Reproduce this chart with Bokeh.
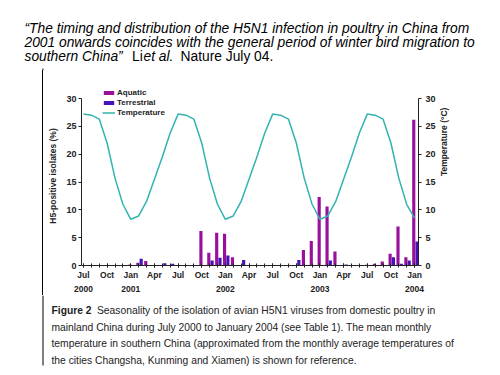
import math
from bokeh.plotting import figure
from bokeh.layouts import column, row
from bokeh.models import (Range1d, LinearAxis, FixedTicker, Legend, LegendItem,
                          ColumnDataSource, Spacer)
from bokeh.transform import dodge
from bokeh.core.properties import value
from bokeh.embed import file_html
from bokeh.resources import INLINE

# ---------------- data (month index 0 = Jul 2000 ... 42 = Jan 2004) ----------------
months = list(range(43))
aquatic = [0, 0, 0, 0, 0, 0, 0.2, 0.5, 0.8, 0, 0, 0,
           0, 0, 0, 6.2, 2.3, 5.9, 5.7, 1.5, 0, 0, 0, 0,
           0, 0, 0, 0, 2.8, 4.4, 12.3, 10.6, 2.5, 0, 0, 0,
           0.15, 0.3, 0.7, 2.1, 7.0, 1.5, 26.2]
terrestrial = [0, 0, 0, 0, 0, 0, 0, 1.2, 0, 0, 0.4, 0.3,
               0, 0, 0, 0, 0.9, 1.4, 1.8, 0, 1.0, 0, 0, 0,
               0, 0, 0, 1.0, 0, 0, 0, 0.9, 0, 0.2, 0, 0,
               0, 0, 0, 1.5, 0.3, 0.9, 4.3]
temperature = [27.2, 27.0, 26.3, 22.0, 15.7, 11.0, 8.3, 8.9, 11.5, 15.5, 19.5, 23.8,
               27.2, 27.0, 26.3, 22.0, 15.7, 11.0, 8.3, 8.9, 11.5, 15.5, 19.5, 23.8,
               27.2, 27.0, 26.3, 22.0, 15.7, 11.0, 8.3, 8.9, 11.5, 15.5, 19.5, 23.8,
               27.2, 27.0, 26.3, 22.0, 15.7, 11.0, 8.5]
tick_months = [0, 3, 6, 9, 12, 15, 18, 21, 24, 27, 30, 33, 36, 39, 42]
tick_labels = ["Jul", "Oct", "Jan", "Apr", "Jul", "Oct", "Jan", "Apr", "Jul", "Oct",
               "Jan", "Apr", "Jul", "Oct", "Jan"]
year_ticks = [0, 6, 18, 30, 42]
year_labels = ["2000", "2001", "2002", "2003", "2004"]
y_ticks = [0, 5, 10, 15, 20, 25, 30]
series_names = ["Aquatic", "Terrestrial", "Temperature"]

title_lines = ["\u201cThe timing and distribution of the H5N1 infection in poultry in China from",
               "2001 onwards coincides with the general period of winter bird migration to",
               "southern China\u201d"]
caption_lines = ["Seasonality of the isolation of avian H5N1 viruses from domestic poultry in",
                 "mainland China during July 2000 to January 2004 (see Table 1). The mean monthly",
                 "temperature in southern China (approximated from the monthly average temperatures of",
                 "the cities Changsha, Kunming and Xiamen) is shown for reference."]

PURPLE = "#9a0f9c"
BLUE = "#4412b6"
TEAL = "#33b3b0"
AX = "#222222"
FONT = "Liberation Sans"

# ---------------- layout constants ----------------
W = 500
TOP_H, MID_H, BOT_H = 70, 225, 80
RULE_X = 42
CH_X = RULE_X + 3
CH_W = W - CH_X
FL, FR = 79 - CH_X, 418 - CH_X
FT, FB = 86 - TOP_H, 265 - TOP_H
Y_TOP = 30 * (265 - 86) / (265 - 98)


def blank(width, height, fill="white"):
    f = figure(width=width, height=height, output_backend="svg", toolbar_location=None,
               x_range=Range1d(0, width), y_range=Range1d(height, 0),
               x_axis_location=None, y_axis_location=None, min_border=0)
    f.outline_line_color = None
    f.xgrid.visible = False
    f.ygrid.visible = False
    f.background_fill_color = fill
    f.border_fill_color = fill
    return f


def txt(f, s, x, y, size, style="normal", color="black", font=FONT):
    f.text(x=[x], y=[y], text=[s], text_font=value(font), text_font_size=f"{size}px",
           text_font_style=style, text_color=color, text_baseline="middle", text_align="left")


# ---------------- top: quotation ----------------
top = blank(W, TOP_H)
TS = 13.8
txt(top, title_lines[0], 24, 27.5, TS, "italic")
txt(top, title_lines[1], 24, 42, TS, "italic")
txt(top, title_lines[2], 24, 56, TS, "italic")
txt(top, "Li", 131.5, 56, TS)
txt(top, "et al.", 143, 56, TS, "italic")
txt(top, "Nature July 04.", 180, 56, TS)
top.segment(x0=[RULE_X + 0.5], y0=[68], x1=[RULE_X + 0.5], y1=[TOP_H], line_color="black",
            line_width=1)

# ---------------- slide rule beside the chart ----------------
rule = Spacer(width=1, height=MID_H, styles={"background-color": "black"})

# ---------------- chart ----------------
src = ColumnDataSource(dict(m=months, aquatic=aquatic, terrestrial=terrestrial,
                            temperature=temperature))

p = figure(width=CH_W, height=MID_H, output_backend="svg", toolbar_location=None,
           x_range=Range1d(-0.25, 42.5), y_range=Range1d(0, Y_TOP),
           min_border_left=FL, min_border_right=CH_W - FR,
           min_border_top=FT, min_border_bottom=MID_H - FB)
p.outline_line_color = None
p.xgrid.visible = False
p.ygrid.visible = False
p.background_fill_color = "white"
p.border_fill_color = "white"

r_aq = p.vbar(x=dodge("m", -0.1, range=p.x_range), top="aquatic", width=0.4, source=src,
              fill_color=PURPLE, line_color=None)
r_te = p.vbar(x=dodge("m", 0.32, range=p.x_range), top="terrestrial", width=0.4, source=src,
              fill_color=BLUE, line_color=None)
r_tm = p.line("m", "temperature", source=src, line_color=TEAL, line_width=1.5)


def style_y(ax):
    ax.bounds = (0, 30)
    ax.axis_line_color = AX
    ax.major_tick_line_color = AX
    ax.major_tick_in = 0
    ax.major_tick_out = 3
    ax.minor_tick_line_color = None
    ax.major_label_standoff = 2
    ax.major_label_text_font = FONT
    ax.major_label_text_font_style = "bold"
    ax.major_label_text_font_size = "9px"
    ax.major_label_text_color = AX
    ax.axis_label_text_font = FONT
    ax.axis_label_text_font_style = "bold"
    ax.axis_label_text_font_size = "8.5px"
    ax.axis_label_text_color = AX
    ax.axis_label_standoff = 5


ya = p.yaxis[0]
ya.ticker = FixedTicker(ticks=y_ticks)
ya.axis_label = "H5-positive isolates (%)"
style_y(ya)

ra = LinearAxis(ticker=FixedTicker(ticks=y_ticks), axis_label="Temperature (\u00b0C)")
style_y(ra)
ra.major_label_standoff = 4
ra.axis_label_orientation = math.pi / 2
p.add_layout(ra, "right")

xa = p.xaxis[0]
xa.ticker = FixedTicker(ticks=tick_months, minor_ticks=months)
xa.major_label_overrides = {m: t for m, t in zip(tick_months, tick_labels)}
xa.axis_line_color = AX
xa.major_tick_line_color = AX
xa.minor_tick_line_color = AX
xa.major_tick_in = 2
xa.major_tick_out = 2
xa.minor_tick_in = 2
xa.minor_tick_out = 2
xa.major_label_standoff = 2
xa.major_label_text_font = FONT
xa.major_label_text_font_style = "bold"
xa.major_label_text_font_size = "8.5px"
xa.major_label_text_color = AX

yr = LinearAxis(ticker=FixedTicker(ticks=year_ticks),
                major_label_overrides={m: t for m, t in zip(year_ticks, year_labels)})
yr.axis_line_color = None
yr.major_tick_line_color = None
yr.minor_tick_line_color = None
yr.major_tick_in = 0
yr.major_tick_out = 0
yr.major_label_standoff = 3
yr.major_label_text_font = FONT
yr.major_label_text_font_style = "bold"
yr.major_label_text_font_size = "8.5px"
yr.major_label_text_color = AX
p.add_layout(yr, "below")

legend = Legend(items=[LegendItem(label=series_names[0], renderers=[r_aq]),
                       LegendItem(label=series_names[1], renderers=[r_te]),
                       LegendItem(label=series_names[2], renderers=[r_tm])],
                location=(100 - 79, 265 - 117), orientation="vertical")
legend.border_line_color = None
legend.background_fill_alpha = 0
legend.padding = 0
legend.margin = 0
legend.spacing = 1
legend.glyph_width = 13
legend.glyph_height = 5
legend.label_height = 8
legend.label_standoff = 2
legend.label_text_font = FONT
legend.label_text_font_style = "bold"
legend.label_text_font_size = "8px"
legend.label_text_color = AX
p.add_layout(legend)

# ---------------- bottom: caption ----------------
bot = blank(W, BOT_H)
CS = 10.3
CC = "#222222"
y0 = TOP_H + MID_H
txt(bot, "Figure 2", 51, 310 - y0, CS, "bold", CC)
txt(bot, caption_lines[0], 96.5, 310 - y0, CS, "normal", CC)
txt(bot, caption_lines[1], 51, 326.7 - y0, CS, "normal", CC)
txt(bot, caption_lines[2], 51, 343.3 - y0, CS, "normal", CC)
txt(bot, caption_lines[3], 51, 360 - y0, CS, "normal", CC)
bot.segment(x0=[RULE_X + 0.5], y0=[0], x1=[RULE_X + 0.5], y1=[365 - y0], line_color="black",
            line_width=1)

layout = column(top, row(Spacer(width=RULE_X, height=MID_H), rule,
                         Spacer(width=CH_X - RULE_X - 1, height=MID_H), p), bot)
open("out.html", "w").write(file_html(layout, INLINE))
